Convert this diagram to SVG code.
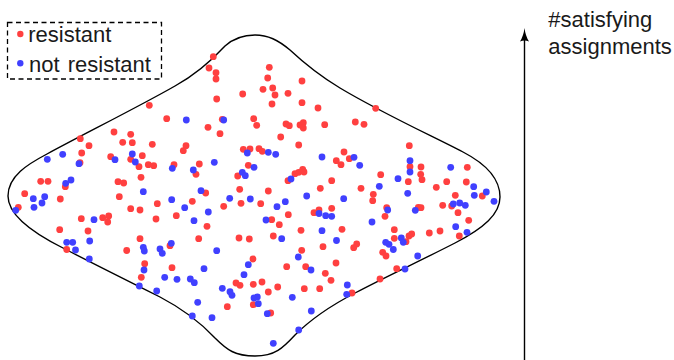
<svg xmlns="http://www.w3.org/2000/svg" width="674" height="360" viewBox="0 0 674 360">
<style>
.r{fill:#ff4040}
.b{fill:#4040ff}
.t{font-family:"Liberation Sans",Arial,sans-serif;font-size:22px;fill:#1a1a1a}
</style>
<rect width="674" height="360" fill="#fff"/>
<g id="region">
<path d="M 8,196 C 8,176 28,164 47,154 C 80,136 140,106 175,86 C 195,75 212,60 225,46 C 235,37 245,35 255,35 C 268,35 278,40 290,50 C 305,64 320,76 340,88 C 380,112 430,135 463,152 C 490,166 500,182 500,197 C 500,214 484,228 455,243 C 420,261 385,277 355,293 C 330,306 310,320 295,335 C 283,348 275,356 255,356 C 235,356 227,350 215,338 C 200,322 185,310 160,297 C 120,277 90,262 63,248 C 35,234 8,216 8,196 Z" fill="none" stroke="#000" stroke-width="1.4"/>
</g>
<g id="red-dots">
<circle class="r" cx="114" cy="132" r="3.4"/><circle class="r" cx="130.7" cy="134.3" r="3.4"/><circle class="r" cx="80.3" cy="138.7" r="3.4"/><circle class="r" cx="122.7" cy="142.3" r="3.4"/><circle class="r" cx="132.3" cy="142.7" r="3.4"/><circle class="r" cx="152.3" cy="144.3" r="3.4"/><circle class="r" cx="89" cy="145.7" r="3.4"/><circle class="r" cx="81.7" cy="153" r="3.4"/><circle class="r" cx="110.7" cy="156.7" r="3.4"/><circle class="r" cx="142.3" cy="155.7" r="3.4"/><circle class="r" cx="130.7" cy="159.3" r="3.4"/><circle class="r" cx="80" cy="162.7" r="3.4"/><circle class="r" cx="148.3" cy="164.7" r="3.4"/><circle class="r" cx="153.7" cy="165.7" r="3.4"/><circle class="r" cx="139" cy="166.7" r="3.4"/><circle class="r" cx="40.7" cy="181.3" r="3.4"/><circle class="r" cx="48" cy="181.3" r="3.4"/><circle class="r" cx="65.3" cy="186.7" r="3.4"/><circle class="r" cx="118" cy="181.7" r="3.4"/><circle class="r" cx="123.7" cy="183" r="3.4"/><circle class="r" cx="141" cy="177.3" r="3.4"/><circle class="r" cx="24.7" cy="193.7" r="3.4"/><circle class="r" cx="60.3" cy="199" r="3.4"/><circle class="r" cx="119.3" cy="196.7" r="3.4"/><circle class="r" cx="157.3" cy="203.7" r="3.4"/><circle class="r" cx="18.3" cy="207.3" r="3.4"/><circle class="r" cx="130.7" cy="208.7" r="3.4"/><circle class="r" cx="140" cy="210" r="3.4"/><circle class="r" cx="156" cy="219" r="3.4"/><circle class="r" cx="81.3" cy="218.7" r="3.4"/><circle class="r" cx="102.7" cy="217.7" r="3.4"/><circle class="r" cx="108.7" cy="216" r="3.4"/><circle class="r" cx="107.7" cy="222" r="3.4"/><circle class="r" cx="59.7" cy="229.7" r="3.4"/><circle class="r" cx="88" cy="231" r="3.4"/><circle class="r" cx="140" cy="238.7" r="3.4"/><circle class="r" cx="126.7" cy="250.5" r="3.4"/><circle class="r" cx="66.7" cy="249.5" r="3.4"/><circle class="r" cx="149.3" cy="105.3" r="3.4"/><circle class="r" cx="144.7" cy="263.7" r="3.4"/><circle class="r" cx="141.3" cy="277.3" r="3.4"/>
<circle class="r" cx="213.3" cy="56.7" r="3.4"/><circle class="r" cx="209" cy="68" r="3.4"/><circle class="r" cx="216" cy="72.7" r="3.4"/><circle class="r" cx="216" cy="79" r="3.4"/><circle class="r" cx="269.3" cy="67.3" r="3.4"/><circle class="r" cx="267.7" cy="78" r="3.4"/><circle class="r" cx="263" cy="89.3" r="3.4"/><circle class="r" cx="272.7" cy="88" r="3.4"/><circle class="r" cx="275" cy="95" r="3.4"/><circle class="r" cx="302" cy="81" r="3.4"/><circle class="r" cx="288" cy="93.3" r="3.4"/><circle class="r" cx="242.7" cy="94" r="3.4"/><circle class="r" cx="216.7" cy="99" r="3.4"/><circle class="r" cx="272" cy="104" r="3.4"/><circle class="r" cx="302" cy="102.7" r="3.4"/><circle class="r" cx="318" cy="108" r="3.4"/><circle class="r" cx="166.7" cy="118.7" r="3.4"/><circle class="r" cx="208" cy="127.3" r="3.4"/><circle class="r" cx="220" cy="133.7" r="3.4"/><circle class="r" cx="253.7" cy="118.7" r="3.4"/><circle class="r" cx="256.7" cy="125.3" r="3.4"/><circle class="r" cx="280.7" cy="137" r="3.4"/><circle class="r" cx="286" cy="124" r="3.4"/><circle class="r" cx="289.3" cy="125.7" r="3.4"/><circle class="r" cx="300" cy="125" r="3.4"/><circle class="r" cx="303.3" cy="122.7" r="3.4"/><circle class="r" cx="303.3" cy="128" r="3.4"/><circle class="r" cx="324.7" cy="124.7" r="3.4"/><circle class="r" cx="222.3" cy="119.3" r="3.4"/>
<circle class="r" cx="355.3" cy="122" r="3.4"/><circle class="r" cx="364" cy="124.3" r="3.4"/><circle class="r" cx="409.3" cy="145.7" r="3.4"/><circle class="r" cx="344" cy="152" r="3.4"/><circle class="r" cx="336.3" cy="160.7" r="3.4"/><circle class="r" cx="341" cy="164.7" r="3.4"/><circle class="r" cx="349.3" cy="158.7" r="3.4"/><circle class="r" cx="410" cy="166.7" r="3.4"/><circle class="r" cx="421" cy="167" r="3.4"/><circle class="r" cx="420.7" cy="174.3" r="3.4"/><circle class="r" cx="422" cy="179.7" r="3.4"/><circle class="r" cx="380.7" cy="174.7" r="3.4"/><circle class="r" cx="467.3" cy="167.3" r="3.4"/><circle class="r" cx="408.3" cy="181.7" r="3.4"/><circle class="r" cx="446.7" cy="181.7" r="3.4"/><circle class="r" cx="466.3" cy="182" r="3.4"/><circle class="r" cx="436.3" cy="187.3" r="3.4"/><circle class="r" cx="361" cy="188.3" r="3.4"/><circle class="r" cx="331.7" cy="180.7" r="3.4"/><circle class="r" cx="373.3" cy="194.3" r="3.4"/><circle class="r" cx="372.7" cy="200.7" r="3.4"/><circle class="r" cx="455.3" cy="195.3" r="3.4"/><circle class="r" cx="482.3" cy="196" r="3.4"/><circle class="r" cx="386.7" cy="207.7" r="3.4"/><circle class="r" cx="418.3" cy="207.3" r="3.4"/><circle class="r" cx="421" cy="207.7" r="3.4"/><circle class="r" cx="442.7" cy="205.3" r="3.4"/><circle class="r" cx="451.7" cy="206" r="3.4"/><circle class="r" cx="331.7" cy="208.3" r="3.4"/><circle class="r" cx="385" cy="216.3" r="3.4"/><circle class="r" cx="458" cy="212.7" r="3.4"/><circle class="r" cx="468.7" cy="220.3" r="3.4"/><circle class="r" cx="342" cy="229.3" r="3.4"/><circle class="r" cx="394.3" cy="229.7" r="3.4"/><circle class="r" cx="429.3" cy="233" r="3.4"/><circle class="r" cx="440" cy="231" r="3.4"/><circle class="r" cx="459.3" cy="236" r="3.4"/><circle class="r" cx="394.3" cy="238.3" r="3.4"/><circle class="r" cx="409" cy="236" r="3.4"/><circle class="r" cx="411.7" cy="234" r="3.4"/><circle class="r" cx="356.7" cy="244" r="3.4"/><circle class="r" cx="353.7" cy="247.7" r="3.4"/><circle class="r" cx="406" cy="241.7" r="3.4"/><circle class="r" cx="375.7" cy="108.3" r="3.4"/>
<circle class="r" cx="186" cy="145.7" r="3.4"/><circle class="r" cx="183.3" cy="150.7" r="3.4"/><circle class="r" cx="243.3" cy="149.3" r="3.4"/><circle class="r" cx="250" cy="149" r="3.4"/><circle class="r" cx="259" cy="148.7" r="3.4"/><circle class="r" cx="262.3" cy="151.3" r="3.4"/><circle class="r" cx="298.7" cy="145" r="3.4"/><circle class="r" cx="174" cy="164.7" r="3.4"/><circle class="r" cx="199.3" cy="164" r="3.4"/><circle class="r" cx="196" cy="174.3" r="3.4"/><circle class="r" cx="248.3" cy="165.3" r="3.4"/><circle class="r" cx="237.7" cy="176" r="3.4"/><circle class="r" cx="295" cy="173.7" r="3.4"/><circle class="r" cx="298.7" cy="172.3" r="3.4"/><circle class="r" cx="302.7" cy="169.3" r="3.4"/><circle class="r" cx="304" cy="172" r="3.4"/><circle class="r" cx="288" cy="180.7" r="3.4"/><circle class="r" cx="205.7" cy="193" r="3.4"/><circle class="r" cx="239.7" cy="189.3" r="3.4"/><circle class="r" cx="268.3" cy="191" r="3.4"/><circle class="r" cx="320.3" cy="188.3" r="3.4"/><circle class="r" cx="192.3" cy="201.3" r="3.4"/><circle class="r" cx="241" cy="203.3" r="3.4"/><circle class="r" cx="260.7" cy="203.7" r="3.4"/><circle class="r" cx="223.7" cy="206.3" r="3.4"/><circle class="r" cx="176.3" cy="215.7" r="3.4"/><circle class="r" cx="314" cy="212.7" r="3.4"/><circle class="r" cx="319" cy="210" r="3.4"/><circle class="r" cx="288.3" cy="214.7" r="3.4"/><circle class="r" cx="271.7" cy="219.7" r="3.4"/><circle class="r" cx="279.3" cy="224.7" r="3.4"/><circle class="r" cx="207" cy="226.3" r="3.4"/><circle class="r" cx="301" cy="230.3" r="3.4"/><circle class="r" cx="198.7" cy="238.7" r="3.4"/><circle class="r" cx="239" cy="238" r="3.4"/><circle class="r" cx="249.3" cy="239" r="3.4"/><circle class="r" cx="273.3" cy="236" r="3.4"/>
<circle class="r" cx="170" cy="245.7" r="3.4"/><circle class="r" cx="323" cy="246.7" r="3.4"/><circle class="r" cx="301.7" cy="250.3" r="3.4"/><circle class="r" cx="253" cy="259" r="3.4"/><circle class="r" cx="172" cy="267.7" r="3.4"/><circle class="r" cx="286.7" cy="266.7" r="3.4"/><circle class="r" cx="305.7" cy="266.7" r="3.4"/><circle class="r" cx="336" cy="263" r="3.4"/><circle class="r" cx="325.3" cy="273.3" r="3.4"/><circle class="r" cx="331" cy="280.3" r="3.4"/><circle class="r" cx="236" cy="283" r="3.4"/><circle class="r" cx="240" cy="285.3" r="3.4"/><circle class="r" cx="253.3" cy="284.3" r="3.4"/><circle class="r" cx="262" cy="282" r="3.4"/><circle class="r" cx="277.7" cy="287" r="3.4"/><circle class="r" cx="268.3" cy="292" r="3.4"/><circle class="r" cx="304.3" cy="288.7" r="3.4"/><circle class="r" cx="319.7" cy="288.7" r="3.4"/><circle class="r" cx="227.3" cy="306.7" r="3.4"/><circle class="r" cx="253.3" cy="304.7" r="3.4"/><circle class="r" cx="270.7" cy="313" r="3.4"/><circle class="r" cx="352" cy="293" r="3.4"/>
<circle class="r" cx="382.7" cy="252.3" r="3.4"/><circle class="r" cx="386" cy="256" r="3.4"/><circle class="r" cx="396.7" cy="268.7" r="3.4"/><circle class="r" cx="380" cy="279" r="3.4"/>
</g>
<g id="blue-dots">
<circle class="b" cx="47.3" cy="159.3" r="3.4"/><circle class="b" cx="62.7" cy="154.3" r="3.4"/><circle class="b" cx="79" cy="163.7" r="3.4"/><circle class="b" cx="132.3" cy="154" r="3.4"/><circle class="b" cx="115" cy="159.7" r="3.4"/><circle class="b" cx="135.3" cy="162" r="3.4"/><circle class="b" cx="65.7" cy="183.3" r="3.4"/><circle class="b" cx="71" cy="180" r="3.4"/><circle class="b" cx="33.3" cy="198.7" r="3.4"/><circle class="b" cx="44.7" cy="196.7" r="3.4"/><circle class="b" cx="42" cy="203" r="3.4"/><circle class="b" cx="34" cy="207.3" r="3.4"/><circle class="b" cx="15.7" cy="210.3" r="3.4"/><circle class="b" cx="143.3" cy="191.7" r="3.4"/><circle class="b" cx="94" cy="219.7" r="3.4"/><circle class="b" cx="89.7" cy="241" r="3.4"/><circle class="b" cx="66.7" cy="242.3" r="3.4"/><circle class="b" cx="72.7" cy="242.3" r="3.4"/><circle class="b" cx="75.5" cy="250" r="3.4"/><circle class="b" cx="143.3" cy="247.3" r="3.4"/><circle class="b" cx="144.3" cy="251" r="3.4"/><circle class="b" cx="89.3" cy="259" r="3.4"/><circle class="b" cx="144" cy="270" r="3.4"/><circle class="b" cx="139.3" cy="286" r="3.4"/>
<circle class="b" cx="186.3" cy="120" r="3.4"/><circle class="b" cx="223.7" cy="120" r="3.4"/>
<circle class="b" cx="354" cy="157.3" r="3.4"/><circle class="b" cx="359.7" cy="165.3" r="3.4"/><circle class="b" cx="410" cy="160.7" r="3.4"/><circle class="b" cx="410" cy="172" r="3.4"/><circle class="b" cx="398" cy="178.7" r="3.4"/><circle class="b" cx="450.7" cy="167.3" r="3.4"/><circle class="b" cx="379.3" cy="186.3" r="3.4"/><circle class="b" cx="407.7" cy="193.3" r="3.4"/><circle class="b" cx="473.7" cy="186.7" r="3.4"/><circle class="b" cx="486.3" cy="192" r="3.4"/><circle class="b" cx="474.3" cy="195.3" r="3.4"/><circle class="b" cx="494" cy="201.3" r="3.4"/><circle class="b" cx="343.7" cy="198.7" r="3.4"/><circle class="b" cx="387.7" cy="210" r="3.4"/><circle class="b" cx="415.3" cy="210.3" r="3.4"/><circle class="b" cx="453.3" cy="204" r="3.4"/><circle class="b" cx="459.7" cy="203" r="3.4"/><circle class="b" cx="465.3" cy="205.3" r="3.4"/><circle class="b" cx="331.7" cy="216.3" r="3.4"/><circle class="b" cx="372" cy="222" r="3.4"/><circle class="b" cx="455.7" cy="226.7" r="3.4"/><circle class="b" cx="467" cy="232.3" r="3.4"/><circle class="b" cx="336.5" cy="240.5" r="3.4"/><circle class="b" cx="385.7" cy="242.3" r="3.4"/><circle class="b" cx="389" cy="244.3" r="3.4"/><circle class="b" cx="401.3" cy="238" r="3.4"/><circle class="b" cx="403.3" cy="242.3" r="3.4"/><circle class="b" cx="393.3" cy="249.5" r="3.4"/>
<circle class="b" cx="172.3" cy="168.3" r="3.4"/><circle class="b" cx="193.3" cy="170" r="3.4"/><circle class="b" cx="214.3" cy="162.3" r="3.4"/><circle class="b" cx="247.3" cy="153" r="3.4"/><circle class="b" cx="268.3" cy="152.3" r="3.4"/><circle class="b" cx="275.7" cy="154.3" r="3.4"/><circle class="b" cx="322" cy="157" r="3.4"/><circle class="b" cx="242.3" cy="172.3" r="3.4"/><circle class="b" cx="245.3" cy="175.7" r="3.4"/><circle class="b" cx="254" cy="167.3" r="3.4"/><circle class="b" cx="291" cy="179" r="3.4"/><circle class="b" cx="201" cy="190.7" r="3.4"/><circle class="b" cx="171.7" cy="199.7" r="3.4"/><circle class="b" cx="229.7" cy="198.3" r="3.4"/><circle class="b" cx="250.3" cy="199" r="3.4"/><circle class="b" cx="285.3" cy="201.7" r="3.4"/><circle class="b" cx="306.7" cy="196" r="3.4"/><circle class="b" cx="184.7" cy="207.7" r="3.4"/><circle class="b" cx="208.3" cy="212" r="3.4"/><circle class="b" cx="277" cy="206.7" r="3.4"/><circle class="b" cx="194" cy="220.7" r="3.4"/><circle class="b" cx="266" cy="220" r="3.4"/><circle class="b" cx="319" cy="213.5" r="3.4"/><circle class="b" cx="325.7" cy="215.7" r="3.4"/><circle class="b" cx="322" cy="230.7" r="3.4"/><circle class="b" cx="281.7" cy="238.7" r="3.4"/>
<circle class="b" cx="160" cy="249" r="3.4"/><circle class="b" cx="162.3" cy="253.3" r="3.4"/><circle class="b" cx="171.3" cy="243.3" r="3.4"/><circle class="b" cx="216.7" cy="250.7" r="3.4"/><circle class="b" cx="298.3" cy="257" r="3.4"/><circle class="b" cx="248.3" cy="264.7" r="3.4"/><circle class="b" cx="204" cy="268.7" r="3.4"/><circle class="b" cx="311" cy="270" r="3.4"/><circle class="b" cx="244" cy="274.7" r="3.4"/><circle class="b" cx="164.7" cy="277.3" r="3.4"/><circle class="b" cx="177" cy="279.3" r="3.4"/><circle class="b" cx="190.3" cy="279" r="3.4"/><circle class="b" cx="194.3" cy="282.7" r="3.4"/><circle class="b" cx="222.3" cy="288.3" r="3.4"/><circle class="b" cx="230" cy="291.7" r="3.4"/><circle class="b" cx="232" cy="295.3" r="3.4"/><circle class="b" cx="156.7" cy="291" r="3.4"/><circle class="b" cx="347.3" cy="285" r="3.4"/><circle class="b" cx="346.7" cy="294.3" r="3.4"/><circle class="b" cx="254" cy="298" r="3.4"/><circle class="b" cx="257.3" cy="297" r="3.4"/><circle class="b" cx="258.3" cy="303.7" r="3.4"/><circle class="b" cx="292.3" cy="297.3" r="3.4"/><circle class="b" cx="197.7" cy="302.3" r="3.4"/><circle class="b" cx="311.3" cy="311" r="3.4"/><circle class="b" cx="192.3" cy="316" r="3.4"/><circle class="b" cx="212" cy="317.7" r="3.4"/><circle class="b" cx="267.3" cy="313.7" r="3.4"/><circle class="b" cx="298.7" cy="330" r="3.4"/><circle class="b" cx="273.3" cy="343.3" r="3.4"/>
<circle class="b" cx="417.7" cy="256" r="3.4"/><circle class="b" cx="405" cy="269" r="3.4"/>
</g>
<g id="legend">
<rect x="7.5" y="22.5" width="154" height="56.5" fill="none" stroke="#000" stroke-width="1.3" stroke-dasharray="5 3.5"/>
<circle class="r" cx="20.3" cy="34" r="3.2"/>
<text class="t" x="28.3" y="42.3">resistant</text>
<circle class="b" cx="20.3" cy="63.3" r="3.2"/>
<text class="t" x="29" y="71.7" word-spacing="2">not resistant</text>
</g>
<g id="axis">
<line x1="524.5" y1="360" x2="524.5" y2="38" stroke="#000" stroke-width="1.4"/>
<path d="M 524.5,28 Q 525.5,36 529,41.5 Q 524.5,39.5 520,41.5 Q 523.5,36 524.5,28 Z" fill="#000"/>
<text class="t" x="548.3" y="26.7">#satisfying</text>
<text class="t" x="548.3" y="54">assignments</text>
</g>
</svg>
